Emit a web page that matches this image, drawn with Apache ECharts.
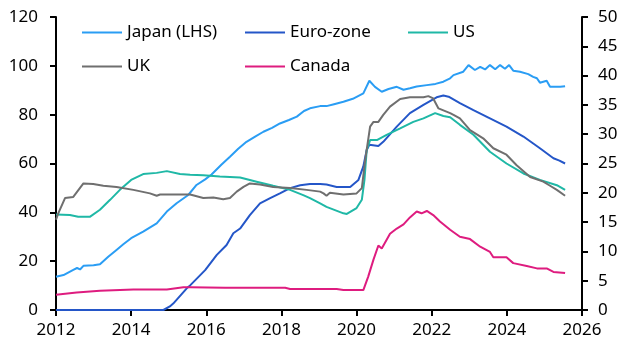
<!DOCTYPE html>
<html>
<head>
<meta charset="utf-8">
<script src="https://cdn.jsdelivr.net/npm/echarts@6/dist/echarts.min.js"></script>
<style>
  html, body { margin: 0; padding: 0; background: #fff; }
  #main { width: 629px; height: 354px; }
</style>
</head>
<body>
<div id="main"></div>
<script>
// [year, value] pairs
var japan = [[2012.0,13.6],[2012.2,14.3],[2012.46,16.4],[2012.56,17.2],[2012.64,16.6],[2012.73,18.1],[2013.0,18.3],[2013.17,18.7],[2013.39,21.8],[2013.61,24.6],[2013.8,27.0],[2014.0,29.4],[2014.32,32.1],[2014.68,35.5],[2014.95,40.3],[2015.21,43.7],[2015.52,47.1],[2015.74,51.2],[2015.97,53.5],[2016.14,55.5],[2016.4,59.5],[2016.63,62.8],[2016.85,66.0],[2017.07,68.9],[2017.3,71.0],[2017.52,73.0],[2017.75,74.6],[2017.96,76.4],[2018.2,77.8],[2018.41,79.2],[2018.6,81.5],[2018.76,82.6],[2019.03,83.5],[2019.2,83.5],[2019.4,84.3],[2019.65,85.3],[2019.9,86.5],[2020.18,88.7],[2020.34,93.9],[2020.49,91.4],[2020.67,89.4],[2020.85,90.5],[2021.07,91.4],[2021.25,90.2],[2021.42,90.8],[2021.6,91.5],[2021.87,92.1],[2022.1,92.6],[2022.31,93.5],[2022.49,94.9],[2022.58,96.2],[2022.84,97.6],[2022.98,100.3],[2023.15,98.3],[2023.29,99.6],[2023.42,98.5],[2023.55,100.3],[2023.69,98.6],[2023.82,100.3],[2023.95,98.8],[2024.06,100.3],[2024.17,98.0],[2024.35,97.6],[2024.57,96.6],[2024.7,95.5],[2024.8,94.9],[2024.88,93.1],[2025.06,93.9],[2025.15,91.4],[2025.42,91.4],[2025.55,91.6]];
var euro = [[2012.0,0],[2014.86,0],[2015.03,0.6],[2015.12,1.1],[2015.48,3.7],[2015.57,4.2],[2015.97,6.8],[2016.28,9.4],[2016.54,11.1],[2016.72,13.1],[2016.9,13.9],[2017.16,16.2],[2017.43,18.2],[2017.7,19.1],[2017.96,19.9],[2018.23,20.8],[2018.5,21.3],[2018.76,21.5],[2019.03,21.5],[2019.2,21.4],[2019.47,21.0],[2019.83,21.0],[2020.05,22.2],[2020.18,24.5],[2020.27,27.3],[2020.34,28.2],[2020.58,28.0],[2020.71,28.7],[2021.07,31.3],[2021.42,33.6],[2021.78,35.0],[2022.13,36.3],[2022.31,36.6],[2022.45,36.4],[2022.75,35.3],[2023.11,34.1],[2023.55,32.7],[2023.99,31.3],[2024.44,29.6],[2024.88,27.6],[2025.24,25.9],[2025.4,25.5],[2025.55,25.0]];
var us = [[2012.0,16.3],[2012.37,16.2],[2012.59,15.9],[2012.9,15.9],[2013.17,17.1],[2013.44,18.8],[2013.7,20.5],[2014.0,22.2],[2014.32,23.2],[2014.68,23.4],[2014.95,23.7],[2015.3,23.2],[2015.57,23.1],[2015.92,23.0],[2016.36,22.8],[2016.9,22.6],[2017.34,21.9],[2017.78,21.2],[2018.23,20.5],[2018.58,19.6],[2018.76,19.1],[2019.03,18.2],[2019.2,17.6],[2019.65,16.5],[2019.74,16.4],[2020.0,17.4],[2020.14,18.8],[2020.21,22.2],[2020.27,27.3],[2020.36,29.0],[2020.54,29.0],[2020.8,29.9],[2021.16,31.0],[2021.51,32.1],[2021.78,32.7],[2022.09,33.6],[2022.31,33.1],[2022.49,32.9],[2022.75,31.6],[2023.11,29.9],[2023.55,27.0],[2023.99,25.0],[2024.44,23.3],[2024.88,22.2],[2025.33,21.3],[2025.55,20.5]];
var uk = [[2012.0,15.4],[2012.06,16.5],[2012.24,19.1],[2012.46,19.3],[2012.73,21.6],[2012.99,21.5],[2013.26,21.2],[2013.61,21.0],[2014.06,20.5],[2014.5,19.9],[2014.68,19.5],[2014.77,19.7],[2015.21,19.7],[2015.57,19.7],[2015.92,19.1],[2016.19,19.2],[2016.45,18.9],[2016.63,19.1],[2016.81,20.2],[2016.99,21.0],[2017.16,21.6],[2017.43,21.4],[2017.78,21.0],[2018.23,20.8],[2018.67,20.5],[2019.03,20.2],[2019.12,19.9],[2019.2,19.5],[2019.29,20.0],[2019.65,19.7],[2020.0,19.9],[2020.14,20.8],[2020.23,25.6],[2020.36,31.3],[2020.45,32.1],[2020.58,32.1],[2020.71,33.3],[2020.89,34.7],[2021.16,36.0],[2021.42,36.3],[2021.78,36.3],[2021.91,36.5],[2022.04,36.1],[2022.18,34.4],[2022.49,33.6],[2022.58,33.3],[2022.75,32.7],[2023.02,30.7],[2023.37,29.3],[2023.64,27.6],[2023.99,26.5],[2024.26,24.7],[2024.62,22.7],[2024.97,21.9],[2025.15,21.2],[2025.33,20.5],[2025.55,19.5]];
var canada = [[2012.0,2.6],[2012.55,3.0],[2013.17,3.3],[2014.06,3.5],[2014.95,3.5],[2015.39,3.9],[2015.57,3.9],[2016.5,3.8],[2017.5,3.8],[2018.1,3.8],[2018.23,3.6],[2019.03,3.6],[2019.47,3.6],[2019.65,3.4],[2020.18,3.4],[2020.31,5.7],[2020.45,8.6],[2020.58,11.0],[2020.67,10.5],[2020.89,13.0],[2021.07,13.9],[2021.25,14.6],[2021.42,15.8],[2021.6,16.8],[2021.73,16.5],[2021.87,16.9],[2022.04,16.2],[2022.22,15.1],[2022.49,13.7],[2022.75,12.5],[2023.02,12.1],[2023.29,10.8],[2023.55,9.9],[2023.64,9.0],[2023.99,9.0],[2024.17,8.0],[2024.53,7.5],[2024.8,7.1],[2025.06,7.1],[2025.24,6.5],[2025.55,6.3]];

var seriesNames = ['Japan (LHS)', 'Euro-zone', 'US', 'UK', 'Canada'];
var seriesColors = ['#2a9df4', '#2456c8', '#1fb8a6', '#6f6f6f', '#de1c7f'];
var seriesData = [japan, euro, us, uk, canada];

var FONT = 'Noto Sans';
var chart = echarts.init(document.getElementById('main'));

// one legend per item so the columns line up like the original
var legendPos = [[82, 24], [245, 24], [408, 24], [82, 58], [245, 58]];
var legends = seriesNames.map(function (n, i) {
  return {
    data: [n],
    left: legendPos[i][0],
    top: legendPos[i][1],
    padding: 0,
    icon: 'rect',
    itemWidth: 40,
    itemHeight: 2,
    itemGap: 5,
    textStyle: { fontFamily: FONT, fontSize: 17, color: '#000', padding: [0, 0, 0, 0] }
  };
});

var axisCommon = {
  axisLine: { show: true, lineStyle: { color: '#000', width: 2 } },
  axisTick: { show: true, inside: false, length: 6, lineStyle: { color: '#000', width: 2 } },
  splitLine: { show: false },
  axisLabel: { fontFamily: FONT, fontSize: 17, color: '#000' }
};

var option = {
  animation: false,
  grid: { left: 56, right: 47, top: 17, bottom: 44 },
  legend: legends,
  xAxis: Object.assign({}, axisCommon, {
    type: 'value', min: 2012, max: 2026, interval: 2,
    axisLabel: Object.assign({}, axisCommon.axisLabel, { margin: 12, formatter: function (v) { return String(v); } })
  }),
  yAxis: [
    Object.assign({}, axisCommon, {
      type: 'value', min: 0, max: 120, interval: 20, position: 'left',
      axisLabel: Object.assign({}, axisCommon.axisLabel, { margin: 18 })
    }),
    Object.assign({}, axisCommon, {
      type: 'value', min: 0, max: 50, interval: 5, position: 'right',
      axisLabel: Object.assign({}, axisCommon.axisLabel, { margin: 16 })
    })
  ],
  series: seriesNames.map(function (n, i) {
    return {
      name: n,
      type: 'line',
      yAxisIndex: i === 0 ? 0 : 1,
      data: seriesData[i],
      symbol: 'none',
      lineStyle: { color: seriesColors[i], width: 2 },
      itemStyle: { color: seriesColors[i] }
    };
  })
};

chart.setOption(option);
</script>
</body>
</html>
